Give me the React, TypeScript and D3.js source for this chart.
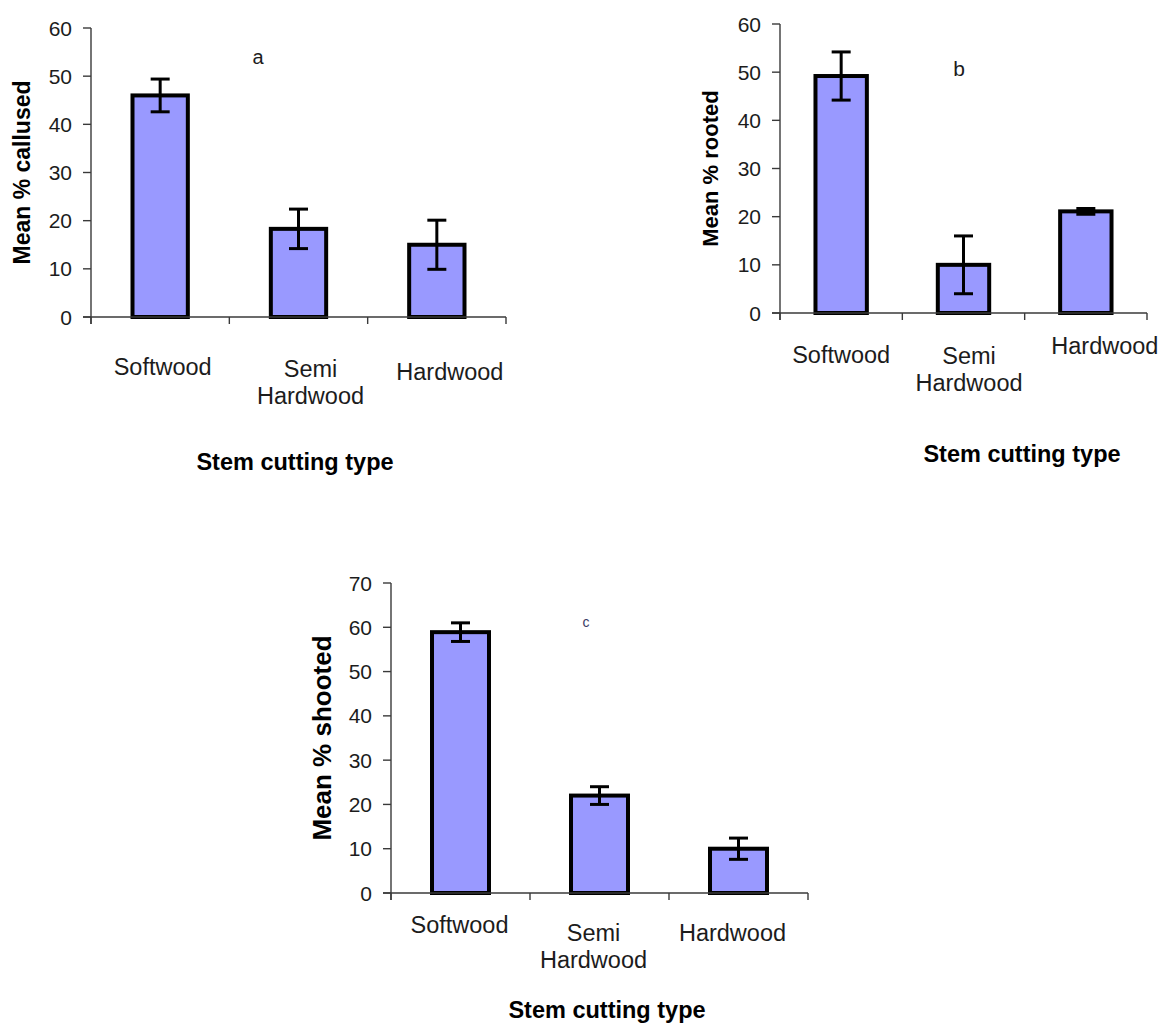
import React from "react";
import * as d3 from "d3";

// stem cutting types on the x axis
const categories = ["Softwood", "Semi Hardwood", "Hardwood"];

// a - callused
const callusedMean = [46.0, 18.3, 15.0];
const callusedErr = [3.4, 4.1, 5.1];

// b - rooted
const rootedMean = [49.2, 10.0, 21.1];
const rootedErr = [5.0, 6.0, 0.6];

// c - shooted
const shootedMean = [58.9, 22.0, 10.0];
const shootedErr = [2.1, 2.0, 2.4];

const yTicks60 = [0, 10, 20, 30, 40, 50, 60];
const yTicks70 = [0, 10, 20, 30, 40, 50, 60, 70];

const FONT = "'Liberation Sans', Arial, Helvetica, sans-serif";
const BAR_FILL = "#9999FF";
const TEXT = "#1c1c1c";

type PanelProps = {
  means: number[];
  errs: number[];
  ticks: number[];
  yLabel: string;
  letter: string;
  left: number;
  right: number;
  top: number;
  bottom: number;
  padIn: number;
  padOut: number;
  yLabelX: number;
  yLabelSize: number;
  letterPos: [number, number, number, string];
  catPos: [number, number][]; // dx from band centre, baseline y
  titlePos: [number, number];
};

const Panel = (p: PanelProps) => {
  const yMax = p.ticks[p.ticks.length - 1];
  const x = d3
    .scaleBand<string>()
    .domain(categories)
    .range([p.left, p.right])
    .paddingInner(p.padIn)
    .paddingOuter(p.padOut);
  const y = d3.scaleLinear().domain([0, yMax]).range([p.bottom, p.top]);
  const bw = x.bandwidth();
  const step = x.step();
  // category boundaries for x ticks
  const xBounds = d3.range(categories.length + 1).map((i) => p.left + i * ((p.right - p.left) / categories.length));
  const cap = 19;

  return (
    <g>
      {/* bars */}
      {categories.map((c, i) => (
        <rect
          key={c}
          x={x(c)}
          y={y(p.means[i])}
          width={bw}
          height={y(0) - y(p.means[i])}
          fill={BAR_FILL}
          stroke="#000"
          strokeWidth={4}
        />
      ))}
      {/* error bars */}
      {categories.map((c, i) => {
        const cx = (x(c) as number) + bw / 2;
        const hi = y(p.means[i] + p.errs[i]);
        const lo = y(p.means[i] - p.errs[i]);
        return (
          <g key={c + "err"} stroke="#000" strokeWidth={3}>
            <line x1={cx} x2={cx} y1={hi} y2={lo} />
            <line x1={cx - cap / 2} x2={cx + cap / 2} y1={hi} y2={hi} />
            <line x1={cx - cap / 2} x2={cx + cap / 2} y1={lo} y2={lo} />
          </g>
        );
      })}
      {/* axes */}
      <g stroke="#3a3a3a" strokeWidth={1.4}>
        <line x1={p.left} x2={p.left} y1={p.top} y2={p.bottom + 7} />
        <line x1={p.left - 8} x2={p.right} y1={p.bottom} y2={p.bottom} />
        {p.ticks.map((t) => (
          <line key={t} x1={p.left - 8} x2={p.left} y1={y(t)} y2={y(t)} />
        ))}
        {xBounds.map((b, i) => (
          <line key={i} x1={b} x2={b} y1={p.bottom} y2={p.bottom + 7} />
        ))}
      </g>
      {p.ticks.map((t) => (
        <text
          key={t}
          x={p.left - 19}
          y={y(t)}
          dy="0.36em"
          textAnchor="end"
          fontSize={21}
          fill={TEXT}
        >
          {t}
        </text>
      ))}
      {/* category labels */}
      {categories.map((c, i) => {
        const cx = (x(c) as number) + bw / 2 + p.catPos[i][0];
        const words = c === "Semi Hardwood" ? ["Semi", "Hardwood"] : [c];
        return (
          <text key={c + "lab"} x={cx} y={p.catPos[i][1]} textAnchor="middle" fontSize={23.5} fill={TEXT}>
            {words.map((w, j) => (
              <tspan key={w} x={cx} dy={j === 0 ? 0 : 27}>
                {w}
              </tspan>
            ))}
          </text>
        );
      })}
      {/* y title */}
      <text
        transform={`translate(${p.yLabelX},${(y(0) + y(yMax)) / 2 + step * 0}) rotate(-90)`}
        textAnchor="middle"
        dy="0.36em"
        fontWeight="bold"
        fontSize={p.yLabelSize}
        fill="#000"
      >
        {p.yLabel}
      </text>
      {/* x title */}
      <text x={p.titlePos[0]} y={p.titlePos[1]} textAnchor="middle" fontWeight="bold" fontSize={23.5} fill="#000">
        Stem cutting type
      </text>
      {/* panel letter */}
      <text
        x={p.letterPos[0]}
        y={p.letterPos[1]}
        dy="0.36em"
        textAnchor="middle"
        fontSize={p.letterPos[2]}
        fill={p.letterPos[3]}
      >
        {p.letter}
      </text>
    </g>
  );
};

export default function App() {
  return (
    <svg
      width={1164}
      height={1026}
      style={{ position: "absolute", left: 0, top: 0, background: "#fff", fontFamily: FONT }}
    >
      <Panel
        means={callusedMean}
        errs={callusedErr}
        ticks={yTicks60}
        yLabel="Mean % callused"
        letter="a"
        left={91}
        right={506}
        top={28}
        bottom={317}
        padIn={0.6}
        padOut={0.3}
        yLabelX={22}
        yLabelSize={23}
        letterPos={[258, 57, 20, TEXT]}
        catPos={[
          [2.5, 375],
          [12, 377],
          [13, 380],
        ]}
        titlePos={[295, 470]}
      />
      <Panel
        means={rootedMean}
        errs={rootedErr}
        ticks={yTicks60}
        yLabel="Mean % rooted"
        letter="b"
        left={780}
        right={1147}
        top={24}
        bottom={313}
        padIn={0.58}
        padOut={0.29}
        yLabelX={710}
        yLabelSize={22}
        letterPos={[959, 68, 21, TEXT]}
        catPos={[
          [0, 363],
          [5.5, 364],
          [19, 354],
        ]}
        titlePos={[1022, 462]}
      />
      <Panel
        means={shootedMean}
        errs={shootedErr}
        ticks={yTicks70}
        yLabel="Mean % shooted"
        letter="c"
        left={391}
        right={808}
        top={583}
        bottom={893}
        padIn={0.59}
        padOut={0.295}
        yLabelX={322}
        yLabelSize={26}
        letterPos={[586, 622, 14, "#3b3b66"]}
        catPos={[
          [-1, 933],
          [-6, 941],
          [-6, 941],
        ]}
        titlePos={[607, 1018]}
      />
    </svg>
  );
}
